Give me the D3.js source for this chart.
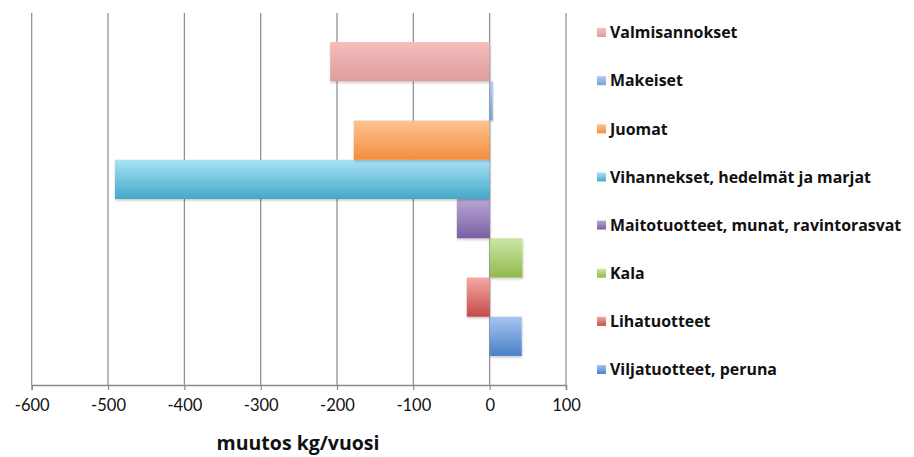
<!DOCTYPE html>
<html>
<head>
<meta charset="utf-8">
<script src="https://cdn.jsdelivr.net/npm/d3@7"></script>
<style>
  html, body { margin: 0; padding: 0; background: #fff; }
  svg { display: block; }
</style>
</head>
<body>
<svg id="chart" width="914" height="457"></svg>
<script>
// Food groups, bottom to top, with change in kg per year
const categories = [
  "Viljatuotteet, peruna",
  "Lihatuotteet",
  "Kala",
  "Maitotuotteet, munat, ravintorasvat",
  "Vihannekset, hedelmät ja marjat",
  "Juomat",
  "Makeiset",
  "Valmisannokset"
];
const values = [42, -30, 43, -43, -491, -178, 4, -209];
const xTicks = [-600, -500, -400, -300, -200, -100, 0, 100];
const axisTitle = "muutos kg/vuosi";
// gradient top (light) and bottom (base) colours per series
const lightColors = ["#a9c5f0", "#f4a9a6", "#cce6a6", "#b8a7d6", "#a8e2f6", "#fcc394", "#b3caf0", "#f6bdbd"];
const baseColors  = ["#4a81c8", "#c44b48", "#92b94e", "#7b5fa3", "#43a9c8", "#f48e3c", "#7f9fd6", "#dd9d9d"];

const svg = d3.select("#chart");
const font = "Lato, 'Open Sans', sans-serif";
const boldFont = "'Open Sans', Lato, sans-serif";

const plot = { left: 31.7, right: 566, top: 13, bottom: 385 };

const x = d3.scaleLinear().domain([-600, 100]).range([plot.left, plot.right]);
const y = d3.scaleBand().domain(categories)
  .range([plot.bottom, plot.top])
  .paddingInner(0).paddingOuter(0.74);

const defs = svg.append("defs");
categories.forEach((c, i) => {
  const g = defs.append("linearGradient")
    .attr("id", "grad" + i).attr("x1", 0).attr("y1", 0).attr("x2", 0).attr("y2", 1);
  g.append("stop").attr("offset", "0%").attr("stop-color", lightColors[i]);
  g.append("stop").attr("offset", "100%").attr("stop-color", baseColors[i]);
});
const shadow = defs.append("filter").attr("id", "shadow")
  .attr("x", "-10%").attr("y", "-10%").attr("width", "130%").attr("height", "140%");
shadow.append("feDropShadow").attr("dx", 0.5).attr("dy", 1.5).attr("stdDeviation", 1.2)
  .attr("flood-color", "#000").attr("flood-opacity", 0.22);

// vertical gridlines
svg.append("g").selectAll("line").data(xTicks).join("line")
  .attr("x1", d => x(d)).attr("x2", d => x(d))
  .attr("y1", plot.top).attr("y2", plot.bottom)
  .attr("stroke", "#8a8a8a").attr("stroke-width", 1.2);

// bars
svg.append("g").selectAll("rect").data(categories).join("rect")
  .attr("x", (c, i) => Math.min(x(0), x(values[i])))
  .attr("width", (c, i) => Math.abs(x(values[i]) - x(0)))
  .attr("y", c => y(c))
  .attr("height", y.bandwidth())
  .attr("fill", (c, i) => `url(#grad${i})`)
  .attr("filter", "url(#shadow)");

// x axis
const axis = d3.axisBottom(x).tickValues(xTicks).tickSize(5).tickPadding(9).tickFormat(d3.format("d"));
const ax = svg.append("g").attr("transform", `translate(0,${plot.bottom})`).call(axis);
ax.select(".domain").attr("stroke", "#8a8a8a").attr("stroke-width", 1.5);
ax.selectAll(".tick line").attr("stroke", "#8a8a8a").attr("stroke-width", 1.2);
ax.selectAll(".tick text")
  .attr("font-family", font).attr("font-size", 16.5).attr("fill", "#111")
  .text(d => d < 0 ? "-" + Math.abs(d) : d);

// axis title
svg.append("text")
  .attr("x", 298).attr("y", 450)
  .attr("text-anchor", "middle")
  .attr("font-family", boldFont).attr("font-weight", "bold").attr("font-size", 19.5)
  .attr("fill", "#111")
  .text(axisTitle);

// legend, top entry is the last series
const legendOrder = categories.map((c, i) => i).reverse();
const legend = svg.append("g");
const rowY = d3.scaleLinear().domain([0, 7]).range([32.5, 369.5]);
const rows = legend.selectAll("g").data(legendOrder).join("g")
  .attr("transform", (d, k) => `translate(597,${rowY(k)})`);
rows.append("rect")
  .attr("x", 0).attr("y", -4.5).attr("width", 9).attr("height", 9)
  .attr("fill", d => `url(#grad${d})`);
rows.append("text")
  .attr("x", 13).attr("y", 0).attr("dy", "0.36em")
  .attr("font-family", boldFont).attr("font-weight", "bold").attr("font-size", 15.9)
  .attr("fill", "#111")
  .text(d => categories[d]);
</script>
</body>
</html>
